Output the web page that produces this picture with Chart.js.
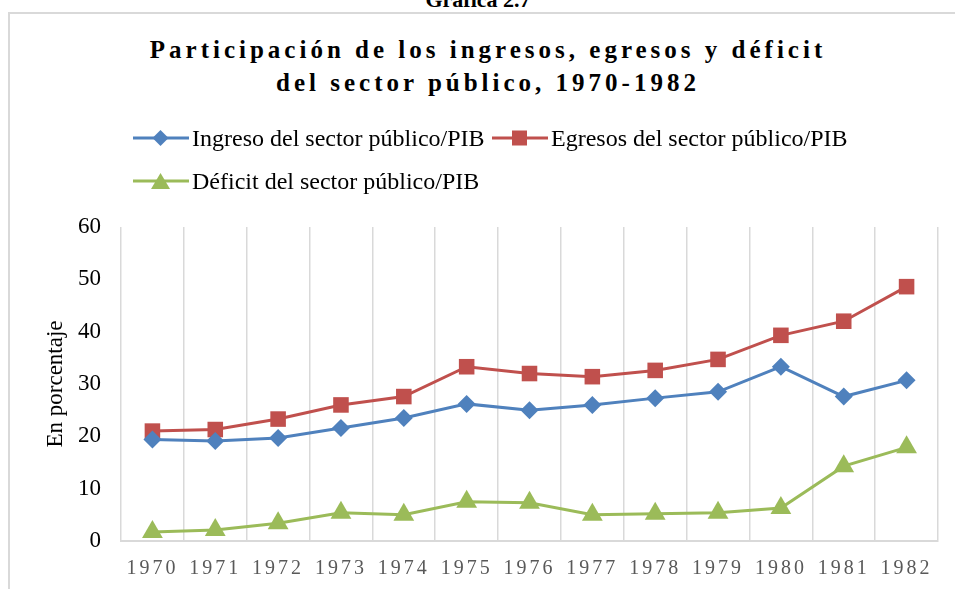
<!DOCTYPE html>
<html>
<head>
<meta charset="utf-8">
<script src="https://cdn.jsdelivr.net/npm/chart.js@4/dist/chart.umd.min.js"></script>
<style>
	body { margin: 0; width: 955px; height: 589px; overflow: hidden; background: #fff; position: relative; font-family: "Liberation Serif", serif; }
	#box { position: absolute; left: 8px; top: 12px; width: 1000px; height: 700px; border: 2px solid #d9d9d9; box-sizing: border-box; }
	#head { position: absolute; left: 0; top: -11px; width: 956px; text-align: center; font: bold 22px/22px "Liberation Serif", serif; }
	#title { position: absolute; left: 8px; top: 33px; width: 960px; text-align: center; font: bold 25px/33px "Liberation Serif", serif; letter-spacing: 4px; color: #000; }
	canvas { position: absolute; left: 0; top: 0; }
	.item { position: absolute; height: 24px; font: 24px/24px "Liberation Serif", serif; color: #000; white-space: nowrap; }
	.item svg { position: absolute; left: 0; top: 4px; }
	.item span { position: absolute; top: 0; }
</style>
</head>
<body>
<div id="box"></div>
<div id="head">Gráfica 2.7</div>
<div id="title">Participación de los ingresos, egresos y déficit<br>del sector público, 1970-1982</div>
<canvas id="chart" width="955" height="589"></canvas>
<div id="legend"></div>
<script>
// === Data ===

const years = ['1970', '1971', '1972', '1973', '1974', '1975', '1976', '1977', '1978', '1979', '1980', '1981', '1982'];
const ingresos = [19.4, 19.1, 19.7, 21.6, 23.5, 26.2, 25.0, 26.0, 27.3, 28.5, 33.3, 27.6, 30.7];
const egresos = [21.0, 21.3, 23.3, 26.0, 27.6, 33.3, 32.0, 31.4, 32.6, 34.7, 39.3, 42.0, 48.6];
const deficit = [1.7, 2.1, 3.4, 5.4, 5.0, 7.5, 7.3, 5.0, 5.2, 5.4, 6.3, 14.3, 17.9];

const seriesNames = ['Ingreso del sector público/PIB', 'Egresos del sector público/PIB', 'Déficit del sector público/PIB'];
const seriesColors = ['#4f81bd', '#c0504d', '#9bbb59'];
const seriesMarkers = ['rectRot', 'rect', 'triangle'];
const markerSizes = [9, 11, 12];


// === Legend (HTML) ===

function markerSvg(kind, color) {
	let shape = '';
	if (kind === 'rectRot')
		shape = '<polygon points="27.5,0 35.5,8 27.5,16 19.5,8" fill="' + color + '"/>';
	else if (kind === 'rect')
		shape = '<rect x="20" y="0.5" width="15" height="15" fill="' + color + '"/>';
	else
		shape = '<polygon points="27.5,0 37,16 18,16" fill="' + color + '"/>';
	return '<svg width="56" height="17"><line x1="0" y1="8" x2="56" y2="8" stroke="' + color + '" stroke-width="3"/>' + shape + '</svg>';
}

const legendPlaces = [[133, 126], [492, 126], [133, 169]];
document.getElementById('legend').innerHTML = seriesNames.map((name, i) =>
	'<div class="item" style="left:' + legendPlaces[i][0] + 'px;top:' + legendPlaces[i][1] + 'px">' +
	markerSvg(seriesMarkers[i], seriesColors[i]) +
	'<span style="left:59px">' + name + '</span></div>'
).join('');


// === Chart ===

const spacedTicks = {
	id: 'spacedTicks',
	beforeDraw(chart) {
		const scale = chart.scales.x;
		if (scale._spaced)
			return;
		const orig = scale.drawLabels.bind(scale);
		scale.drawLabels = function(area) {
			chart.ctx.letterSpacing = '3px';
			orig(area);
			chart.ctx.letterSpacing = '0px';
		};
		scale._spaced = true;
	}
};

function makeDataset(i, values) {
	return {
		label: seriesNames[i],
		data: values,
		borderColor: seriesColors[i],
		backgroundColor: seriesColors[i],
		borderWidth: 3,
		pointStyle: seriesMarkers[i],
		pointRadius: markerSizes[i],
		pointHoverRadius: markerSizes[i],
		pointBorderWidth: 0,
		tension: 0
	};
}

new Chart(document.getElementById('chart'), {
	type: 'line',
	data: {
		labels: years,
		datasets: [
			makeDataset(0, ingresos),
			makeDataset(1, egresos),
			makeDataset(2, deficit)
		]
	},
	options: {
		responsive: false,
		animation: false,
		layout: { padding: { top: 227, right: 17, bottom: 0, left: 0 } },
		plugins: {
			legend: { display: false },
			tooltip: { enabled: false }
		},
		scales: {
			x: {
				offset: true,
				grid: { offset: true, color: '#d9d9d9', lineWidth: 1.5, drawTicks: false },
				border: { color: '#d9d9d9', width: 2 },
				ticks: {
					color: '#595959',
					padding: 16,
					maxRotation: 0,
					font: { family: 'Liberation Serif', size: 20 }
				},
				afterFit(scale) { scale.height = 48; }
			},
			y: {
				min: 0,
				max: 60,
				grid: { display: false, drawTicks: false },
				border: { display: false },
				ticks: {
					stepSize: 10,
					color: '#000',
					padding: 20,
					font: { family: 'Liberation Serif', size: 23 }
				},
				title: {
					display: true,
					text: 'En porcentaje',
					color: '#000',
					padding: { top: 42, bottom: 0 },
					font: { family: 'Liberation Serif', size: 23, weight: 'normal' }
				},
				afterFit(scale) { scale.width = 121; }
			}
		}
	},
	plugins: [spacedTicks]
});
</script>
</body>
</html>
